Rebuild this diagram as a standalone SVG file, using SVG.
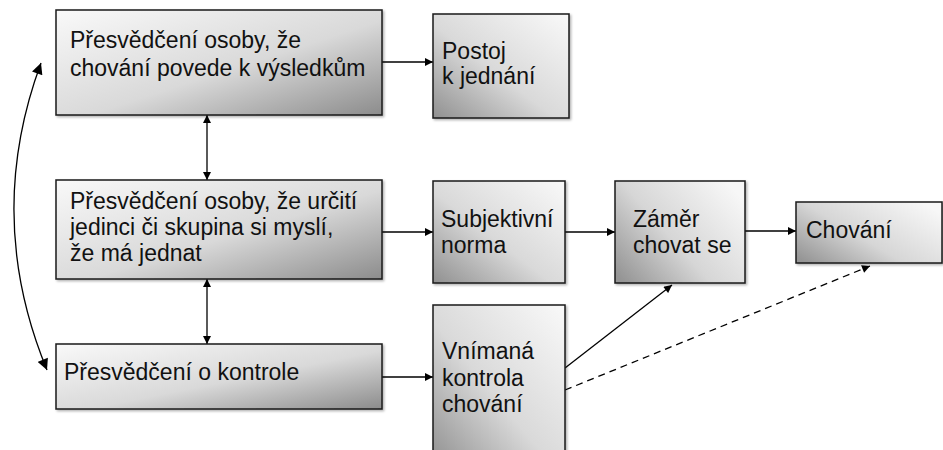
<svg xmlns="http://www.w3.org/2000/svg" width="943" height="450" viewBox="0 0 943 450">
<style>
.box{stroke:#1a1a1a;stroke-width:1.5}
.t{font-family:"Liberation Sans",Arial,sans-serif;font-size:23px;fill:#111}
.c{stroke:#000;stroke-width:1.3;fill:none}
.d{stroke-dasharray:7 5}
</style>
<defs>
<linearGradient id="gTL" x1="0" y1="0" x2="1" y2="1">
<stop offset="0" stop-color="#f9f9f9"/><stop offset="0.55" stop-color="#d9d9d9"/><stop offset="1" stop-color="#8c8c8c"/>
</linearGradient>
<linearGradient id="gBL" x1="1" y1="0" x2="0" y2="1">
<stop offset="0" stop-color="#f9f9f9"/><stop offset="0.55" stop-color="#d9d9d9"/><stop offset="1" stop-color="#909090"/>
</linearGradient>
<linearGradient id="gL" x1="1" y1="0.2" x2="0" y2="0.9">
<stop offset="0" stop-color="#f7f7f7"/><stop offset="0.55" stop-color="#d6d6d6"/><stop offset="1" stop-color="#959595"/>
</linearGradient>
<filter id="sh" x="-5%" y="-5%" width="110%" height="115%">
<feDropShadow dx="1.5" dy="1.5" stdDeviation="0.8" flood-color="#000" flood-opacity="0.3"/>
</filter>
<marker id="a" viewBox="0 0 10 10" refX="10" refY="5" markerWidth="9" markerHeight="8" orient="auto-start-reverse" markerUnits="userSpaceOnUse">
<path d="M0,0 L10,5 L0,10 z" fill="#000"/>
</marker>
<marker id="b" viewBox="0 0 10 10" refX="10" refY="5" markerWidth="13" markerHeight="11" orient="auto-start-reverse" markerUnits="userSpaceOnUse">
<path d="M0,0 L10,5 L0,10 z" fill="#000"/>
</marker>
</defs>

<g id="connectors">
<path class="c" d="M41,63 Q-16,217 47,370" marker-start="url(#b)" marker-end="url(#b)"/>
<line class="c" x1="207" y1="115" x2="207" y2="180" marker-start="url(#a)" marker-end="url(#a)"/>
<line class="c" x1="207" y1="279" x2="207" y2="344" marker-start="url(#a)" marker-end="url(#a)"/>
<line class="c" x1="382" y1="62" x2="433" y2="62" marker-end="url(#a)"/>
<line class="c" x1="382" y1="232" x2="433" y2="232" marker-end="url(#a)"/>
<line class="c" x1="565" y1="232" x2="615" y2="232" marker-end="url(#a)"/>
<line class="c" x1="745" y1="231" x2="796" y2="231" marker-end="url(#a)"/>
<line class="c" x1="382" y1="377" x2="433" y2="377" marker-end="url(#a)"/>
<line class="c" x1="565" y1="368" x2="672" y2="285" marker-end="url(#a)"/>
<line class="c d" x1="565" y1="390" x2="870" y2="266" marker-end="url(#a)"/>
</g>

<g id="n1"><rect class="box" x="56" y="10" width="326" height="105" fill="url(#gTL)" filter="url(#sh)"/>
<text class="t" x="70" y="48">Přesvědčení osoby, že</text>
<text class="t" x="70" y="76">chování povede k výsledkům</text></g>

<g id="n2"><rect class="box" x="433" y="14" width="136" height="104" fill="url(#gBL)" filter="url(#sh)"/>
<text class="t" x="442" y="59">Postoj</text>
<text class="t" x="442" y="84">k jednání</text></g>

<g id="n3"><rect class="box" x="56" y="180" width="326" height="99" fill="url(#gTL)" filter="url(#sh)"/>
<text class="t" x="70" y="209">Přesvědčení osoby, že určití</text>
<text class="t" x="70" y="235">jedinci či skupina si myslí,</text>
<text class="t" x="70" y="261">že má jednat</text></g>

<g id="n4"><rect class="box" x="433" y="181" width="132" height="102" fill="url(#gBL)" filter="url(#sh)"/>
<text class="t" x="441" y="227">Subjektivní</text>
<text class="t" x="441" y="253">norma</text></g>

<g id="n5"><rect class="box" x="615" y="181" width="130" height="102" fill="url(#gL)" filter="url(#sh)"/>
<text class="t" x="633" y="227">Záměr</text>
<text class="t" x="633" y="253">chovat se</text></g>

<g id="n6"><rect class="box" x="796" y="202" width="146" height="61" fill="url(#gL)" filter="url(#sh)"/>
<text class="t" x="806" y="238">Chování</text></g>

<g id="n7"><rect class="box" x="56" y="344" width="326" height="65" fill="url(#gTL)" filter="url(#sh)"/>
<text class="t" x="64" y="380">Přesvědčení o kontrole</text></g>

<g id="n8"><rect class="box" x="433" y="305" width="132" height="160" fill="url(#gBL)" filter="url(#sh)"/>
<text class="t" x="442" y="359">Vnímaná</text>
<text class="t" x="442" y="386">kontrola</text>
<text class="t" x="442" y="412">chování</text></g>
</svg>
